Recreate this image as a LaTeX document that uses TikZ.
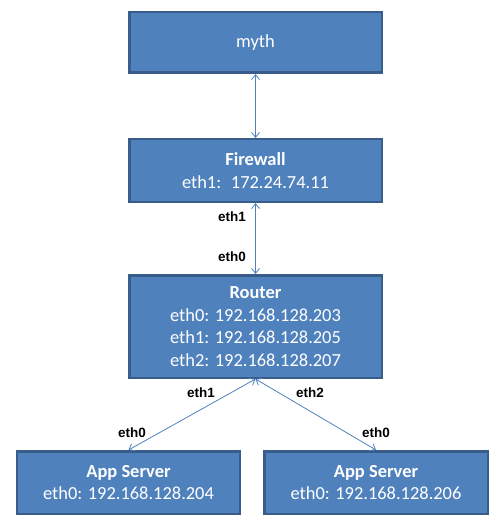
\documentclass[tikz,border=0pt]{standalone}
\usepackage{fontspec}
\setmainfont{Carlito}
\newfontfamily\lblfont{Liberation Sans}
\usetikzlibrary{arrows.meta}
\definecolor{BoxBlue}{RGB}{79,129,189}
\definecolor{BoxEdge}{RGB}{56,93,138}
\definecolor{LinkBlue}{RGB}{79,129,189}

\begin{document}
\begin{tikzpicture}[x=1bp, y=-1bp,
          box/.style={rectangle, fill=BoxBlue, draw=BoxEdge, line width=2.5bp,
                      text=white, align=center, inner sep=2bp,
                      font=\fontsize{18.5}{22.5}\selectfont},
          port/.style={font=\lblfont\bfseries\fontsize{13.5}{15}\selectfont},
          link/.style={{Straight Barb[length=5bp,width=8bp]}-{Straight Barb[length=5bp,width=8bp]},
                       line width=0.8bp, draw=LinkBlue}
        ]
        \useasboundingbox (0,0) rectangle (502,528);

        \node[box, minimum width=252.5bp, minimum height=60.5bp] (myth) at (255.5, 42.5)
              {myth};
        \node[box, minimum width=252.5bp, minimum height=62.5bp] (fw) at (255.5, 170.5)
              {\textbf{Firewall}\\eth1:~ 172.24.74.11};
        \node[box, minimum width=252.5bp, minimum height=102.5bp] (router) at (255.5, 326.5)
              {\textbf{Router}\\eth0: 192.168.128.203\\eth1: 192.168.128.205\\eth2: 192.168.128.207};
        \node[box, minimum width=222.5bp, minimum height=62.5bp] (appa) at (128.5, 482.5)
              {\textbf{App Server}\\eth0: 192.168.128.204};
        \node[box, minimum width=223.5bp, minimum height=62.5bp] (appb) at (376, 482.5)
              {\textbf{App Server}\\eth0: 192.168.128.206};

        \foreach \a/\b in {myth/fw, fw/router, router/appa, router/appb} {
          \draw[link] (\a.south)--(\b.north);
        }

        % port names on the links
        \node[port] (fweth1) at (232, 217) {eth1};
        \node[port] (rteth0) at (232, 257) {eth0};
        \node[port] (rteth1) at (201, 393) {eth1};
        \node[port] (rteth2) at (310, 393) {eth2};
        \node[port] (appaeth0) at (132, 433) {eth0};
        \node[port] (appbeth0) at (376, 433) {eth0};
      \end{tikzpicture}
\end{document}
